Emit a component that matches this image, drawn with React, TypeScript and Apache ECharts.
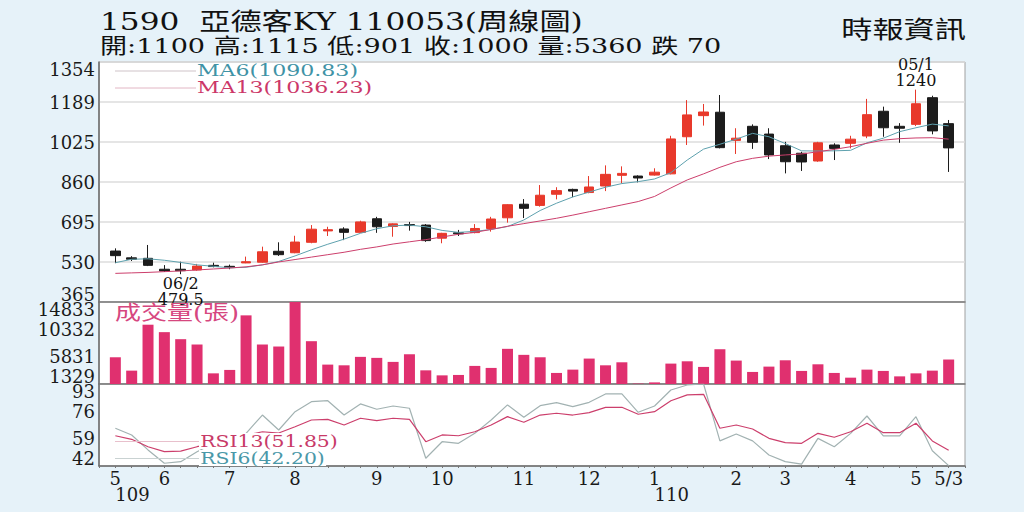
import React, { useEffect, useRef } from 'react';
import * as echarts from 'echarts';

// ---- x-axis tick labels (one per week, 52 weeks) ----
const monthLabels = ['5', '', '', '6', '', '', '', '7', '', '', '', '8', '', '', '', '', '9', '', '', '', '10', '', '', '', '', '11', '', '', '', '12', '', '', '', '1', '', '', '', '', '2', '', '', '3', '', '', '', '4', '', '', '', '5', '', '5/3'];
const yearLabels = ['109', '', '', '', '', '', '', '', '', '', '', '', '', '', '', '', '', '', '', '', '', '', '', '', '', '', '', '', '', '', '', '', '', '110', '', '', '', '', '', '', '', '', '', '', '', '', '', '', '', '', '', ''];

// ---- weekly candles ----
const opens = [575, 547, 545, 500, 500, 497, 516, 512, 526, 529, 574, 568, 611, 658, 666, 652, 708, 676, 684, 682, 628, 650, 651, 668, 712, 768, 763, 809, 829, 816, 843, 887, 884, 888, 893, 1046, 1133, 1147, 1031, 1089, 1057, 1009, 978, 946, 1012, 1019, 1049, 1151, 1089, 1097, 1207, 1100];
const closes = [556, 541, 516, 493, 494, 513, 511, 507, 531, 572, 560, 612, 665, 663, 652, 695, 675, 687, 680, 618, 648, 646, 668, 707, 766, 751, 805, 824, 822, 839, 891, 895, 876, 900, 1037, 1136, 1148, 1001, 1040, 1023, 971, 943, 942, 1021, 998, 1036, 1137, 1083, 1081, 1182, 1070, 1000];
const lows = [525, 534, 513, 489, 479.5, 494, 508, 500, 525, 527, 555, 566, 607, 637, 620, 650, 650, 634, 659, 613, 607, 637, 648, 655, 692, 711, 758, 788, 797, 813, 822, 854, 858, 886, 891, 1012, 1092, 998, 975, 996, 954, 895, 905, 943, 950, 998, 1040, 1046, 1021, 1090, 1056, 901];
const highs = [586, 554, 600, 517, 531, 522, 527, 519, 552, 593, 611, 638, 682, 675, 673, 700, 716, 689, 695, 686, 650, 662, 686, 716, 768, 789, 847, 838, 832, 884, 928, 924, 887, 916, 1050, 1197, 1181, 1218, 1081, 1097, 1081, 1025, 984, 1025, 1019, 1050, 1202, 1170, 1102, 1240, 1215, 1115];

// ---- moving averages ----
const ma6 = [527, 541, 543, 537, 528, 518, 512, 506, 508, 518, 532, 555, 580, 603, 624, 648, 667, 679, 682, 675, 660, 652, 656, 664, 676, 703, 742, 772, 798, 818, 838, 853, 861, 872, 898, 950, 995, 1015, 1036, 1060, 1046, 1018, 988, 987, 988, 990, 1021, 1040, 1067, 1083, 1098, 1090.83];
const ma13 = [483, 485, 487, 490, 493, 497, 501, 505, 510, 518, 530, 540, 550, 560, 570, 582, 592, 604, 613, 622, 633, 644, 652, 664, 677, 688, 699, 710, 723, 737, 751, 765, 779, 800, 835, 868, 893, 920, 943, 957, 966, 971, 975, 984, 994, 1005, 1019, 1032, 1038, 1041, 1042, 1036.23];

// ---- volume (張) ----
const volumes = [5731, 3530, 11094, 9869, 8710, 7833, 3083, 3646, 12633, 7833, 7502, 14833, 8379, 4523, 4407, 5798, 5632, 4970, 6228, 3580, 2752, 2819, 4308, 3977, 7121, 6129, 5731, 3150, 3696, 5516, 4407, 4904, 1400, 1594, 4689, 5069, 4142, 7055, 5185, 3315, 4192, 5235, 3481, 4573, 3150, 2372, 3696, 3481, 2587, 3083, 3530, 5360];

// ---- RSI ----
const rsi6 = [65.5, 61.3, 52, 43.7, 44.7, 50.9, 56, 60, 62.3, 73.7, 64.4, 75.8, 82, 82.6, 73.7, 80.6, 77.3, 79.3, 77.9, 46.8, 57.1, 56.1, 62.3, 70.6, 80, 72.3, 79.5, 81.4, 78.9, 81.6, 86.8, 86.8, 75.4, 79.3, 89.3, 92.4, 93, 57.6, 61.9, 57.6, 48.8, 44.7, 43.2, 59.2, 54, 62.3, 73.1, 60.7, 60.7, 72.7, 51.5, 42.2];
const rsi13 = [60.8, 58.6, 54, 50.9, 51.3, 54, 56, 58, 61, 63.3, 62.5, 66.4, 70.6, 71, 67.5, 71.7, 70.2, 71.7, 71, 57.1, 61.3, 60.8, 63.3, 67.5, 72.7, 69.2, 73.7, 74.8, 73.7, 75.2, 78.5, 78.5, 74.2, 75.8, 82.6, 86.2, 86.6, 65.5, 67.5, 65, 59.2, 56.5, 56.1, 62.3, 59.9, 63.3, 68.6, 62.7, 62.7, 68.6, 57.6, 51.85];

// ---- axis tick labels ----
const priceTicks = [365, 530, 695, 860, 1025, 1189, 1354];
const volumeTicks = [1329, 5831, 10332, 14833];
const rsiTicks = [42, 59, 76, 93];

// ---- annotations ----
const lowMark = { index: 4, date: '06/2', value: 479.5 };
const highMark = { index: 49, date: '05/1', value: 1240 };

const titleText = '1590  亞德客KY 110053(周線圖)';
const sourceText = '時報資訊';

const SERIF = '"DejaVu Serif", "Noto Sans CJK TC", serif';
const CJK = '"Noto Sans CJK TC", sans-serif';

const UP = '#e8392b';
const DOWN = '#1c1c1c';
const TEAL = '#5ea1ae';
const PINK = '#cc3f6c';
const VOL = '#e0306f';
const RSI6C = '#a2b2b2';

function padSeries(a: any[]) {
  return ['-', ...a, '-'];
}

export default function App() {
  const ref = useRef<HTMLDivElement>(null);

  useEffect(() => {
    if (!ref.current) return;
    const chart = echarts.init(ref.current, undefined, { renderer: 'svg' });

    const cats = ['', ...monthLabels, ''];
    const yearCats = ['', ...yearLabels, ''];
    const candles = padSeries(opens.map((o, i) => [o, closes[i], lows[i], highs[i]]));
    const last = opens.length - 1;
    const change = closes[last] - closes[last - 1];
    const infoText = `開:${opens[last]} 高:${highs[last]} 低:${lows[last]} 收:${closes[last]} 量:${volumes[last]} ${change < 0 ? '跌' : '漲'} ${Math.abs(change)}`;

    const labelAxis = (gridIndex: number, n: number, ticks: number[], split: boolean) => ({
      type: 'value',
      gridIndex,
      position: 'left',
      min: 0,
      max: n,
      interval: 1,
      axisLine: { show: true, onZero: false, lineStyle: { color: '#6b6b6b', width: 1.5 } },
      axisTick: { show: false },
      axisLabel: {
        formatter: (v: number) => String(ticks[Math.round(v)]),
        fontFamily: SERIF,
        fontSize: 18,
        lineHeight: 15,
        color: '#1a1a1a',
        margin: 4,
        verticalAlignMinLabel: 'bottom',
        verticalAlignMaxLabel: 'top',
      },
      splitLine: { show: split, lineStyle: { color: '#dcdcdc', width: 1.5 } },
    });

    const dataAxis = (gridIndex: number, min: number, max: number) => ({
      type: 'value',
      gridIndex,
      min,
      max,
      show: false,
      splitLine: { show: false },
    });

    const hiddenX = (gridIndex: number) => ({
      type: 'category',
      gridIndex,
      data: cats,
      boundaryGap: false,
      axisLine: { show: true, lineStyle: { color: '#7a7a7a', width: 1.5 } },
      axisTick: { show: false },
      axisLabel: { show: false },
      splitLine: { show: false },
    });

    const textEl = (x: number, y: number, text: string, font: string, fill: string, scaleX: number, align = 'left', extra: any = {}) => ({
      type: 'text',
      x,
      y,
      scaleX,
      z: 100,
      style: {
        text,
        x: 0,
        y: 0,
        font,
        fill,
        align,
        textAlign: align,
        verticalAlign: 'middle',
        textVerticalAlign: 'middle',
        ...extra,
      },
    });

    const lineEl = (x1: number, y: number, x2: number, stroke: string) => ({
      type: 'line',
      z: 99,
      shape: { x1, y1: y, x2, y2: y },
      style: { stroke, lineWidth: 1 },
    });

    const option: any = {
      animation: false,
      backgroundColor: '#e6f2f9',
      grid: [
        { left: 99, right: 59, top: 62, height: 240, show: true, backgroundColor: '#fff', borderColor: '#a0a0a0', borderWidth: 1 },
        { left: 99, right: 59, top: 302, height: 82, show: true, backgroundColor: '#fff', borderColor: '#a0a0a0', borderWidth: 1 },
        { left: 99, right: 59, top: 384, height: 82, show: true, backgroundColor: '#fff', borderColor: '#a0a0a0', borderWidth: 1 },
      ],
      xAxis: [
        hiddenX(0),
        hiddenX(1),
        {
          type: 'category',
          gridIndex: 2,
          data: cats,
          boundaryGap: false,
          axisLine: { show: true, lineStyle: { color: '#6b6b6b', width: 1.5 } },
          axisTick: { show: true, interval: 0, length: 2, lineStyle: { color: '#777' } },
          axisLabel: { interval: 0, fontFamily: SERIF, fontSize: 18, lineHeight: 16, color: '#1a1a1a', margin: 4 },
          splitLine: { show: false },
        },
        {
          type: 'category',
          gridIndex: 2,
          position: 'bottom',
          data: yearCats,
          boundaryGap: false,
          axisLine: { show: false },
          axisTick: { show: false },
          axisLabel: { interval: 0, fontFamily: SERIF, fontSize: 18, lineHeight: 16, color: '#1a1a1a', margin: 20, align: 'left' },
          splitLine: { show: false },
        },
      ],
      yAxis: [
        dataAxis(0, 365, 1354),
        labelAxis(0, priceTicks.length - 1, priceTicks, true),
        dataAxis(1, 1329, 14833),
        labelAxis(1, volumeTicks.length - 1, volumeTicks, false),
        dataAxis(2, 42, 93),
        labelAxis(2, rsiTicks.length - 1, rsiTicks, false),
      ],
      series: [
        {
          type: 'candlestick',
          xAxisIndex: 0,
          yAxisIndex: 0,
          data: candles,
          barWidth: 10,
          itemStyle: { color: UP, color0: DOWN, borderColor: UP, borderColor0: DOWN, borderWidth: 1 },
          markPoint: {
            symbol: 'circle',
            symbolSize: 0,
            itemStyle: { color: 'transparent' },
            label: { show: true, fontFamily: SERIF, fontSize: 16, lineHeight: 16, color: '#111' },
            data: [
              {
                coord: [lowMark.index + 1, lowMark.value],
                label: { position: 'bottom', distance: 1, formatter: `${lowMark.date}\n${lowMark.value}` },
              },
              {
                coord: [highMark.index + 1, highMark.value],
                label: { position: 'top', distance: 1, formatter: `${highMark.date}\n${highMark.value}` },
              },
            ],
          },
        },
        {
          type: 'line',
          xAxisIndex: 0,
          yAxisIndex: 0,
          data: padSeries(ma6),
          symbol: 'none',
          lineStyle: { color: TEAL, width: 1 },
          z: 3,
        },
        {
          type: 'line',
          xAxisIndex: 0,
          yAxisIndex: 0,
          data: padSeries(ma13),
          symbol: 'none',
          lineStyle: { color: PINK, width: 1 },
          z: 3,
        },
        {
          type: 'bar',
          xAxisIndex: 1,
          yAxisIndex: 2,
          data: padSeries(volumes),
          barWidth: 11,
          itemStyle: { color: VOL },
        },
        {
          type: 'line',
          xAxisIndex: 2,
          yAxisIndex: 4,
          data: padSeries(rsi6),
          symbol: 'none',
          lineStyle: { color: RSI6C, width: 1.2 },
        },
        {
          type: 'line',
          xAxisIndex: 2,
          yAxisIndex: 4,
          data: padSeries(rsi13),
          symbol: 'none',
          lineStyle: { color: PINK, width: 1.2 },
        },
      ],
      graphic: [
        textEl(100, 22, titleText, `24px ${SERIF}`, '#111', 1.3),
        textEl(100, 46, infoText, `21px ${SERIF}`, '#111', 1.29),
        textEl(966, 28, sourceText, `24px ${CJK}`, '#111', 1.3, 'right'),
        lineEl(115, 71, 196, '#cfc3c8'),
        lineEl(115, 88, 196, '#e2b6c4'),
        textEl(197, 71, `MA6(${ma6[last].toFixed(2)})`, `16px ${SERIF}`, '#3f93a6', 1.38, 'left', { lineHeight: 15 }),
        textEl(197, 88, `MA13(${ma13[last].toFixed(2)})`, `16px ${SERIF}`, '#cc3768', 1.38, 'left', { lineHeight: 15 }),
        textEl(115, 313, '成交量(張)', `20px ${SERIF}`, '#d6477f', 1.3),
        lineEl(115, 441.5, 199, '#e8c0cc'),
        lineEl(115, 458.5, 199, '#c9d2d2'),
        textEl(199, 441, `RSI13(${rsi13[last].toFixed(2)})`, `17px ${SERIF}`, '#c83a68', 1.2, 'left', { backgroundColor: '#fff', padding: [0, 1], lineHeight: 16 }),
        textEl(199, 458, `RSI6(${rsi6[last].toFixed(2)})`, `17px ${SERIF}`, '#4a98a8', 1.2, 'left', { backgroundColor: '#fff', padding: [0, 1], lineHeight: 16 }),
      ],
    };

    chart.setOption(option);
    return () => chart.dispose();
  }, []);

  return (
    <div style={{ position: 'fixed', left: 0, top: 0, width: 1024, height: 512, background: '#e6f2f9' }}>
      <div ref={ref} style={{ width: 1024, height: 512 }} />
    </div>
  );
}
